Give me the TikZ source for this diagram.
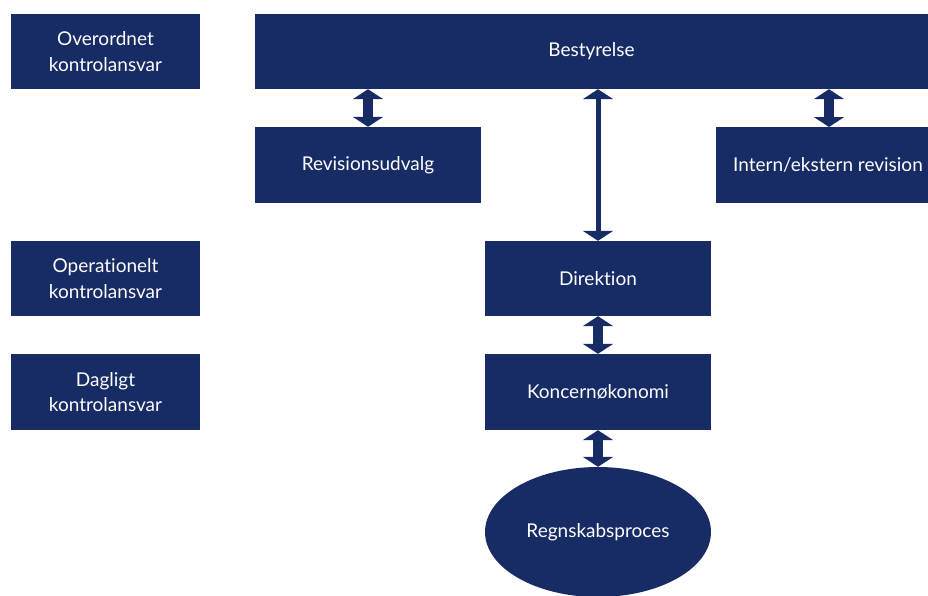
\documentclass[tikz,border=0pt]{standalone}
\usepackage{fontspec}
\setmainfont{Lato}[Ligatures=NoCommon]
\usetikzlibrary{arrows.meta,shapes.geometric}
\definecolor{navy}{HTML}{172B65}
\tikzset{
  box/.style={fill=navy, draw=none, text=white, align=center, inner sep=0pt, font=\fontsize{19}{25.5}\selectfont},
  dblarrow/.style={draw=navy, line width=#1, {Triangle[width=30pt,length=10pt]}-{Triangle[width=30pt,length=10pt]}},
}
\begin{document}
\begin{tikzpicture}[x=1pt,y=-1pt]
\useasboundingbox (0,0) rectangle (928,595);
\begin{scope}
\clip (0,0) rectangle (928,595);
\node[box, minimum width=189pt, minimum height=75pt] (ov) at (105.5,51.5) {Overordnet\\kontrolansvar};
\node[box, minimum width=673pt, minimum height=75pt] (bes) at (591.5,51.5) {\raisebox{-4pt}{Bestyrelse}};
\node[box, minimum width=226pt, minimum height=76pt] (rev) at (368,165) {Revisionsudvalg};
\node[box, minimum width=212pt, minimum height=76pt] (int) at (822,165) {\hspace{12pt}Intern/ekstern revision};
\node[box, minimum width=189pt, minimum height=75pt] (op) at (105.5,278.5) {Operationelt\\kontrolansvar};
\node[box, minimum width=226pt, minimum height=75pt] (dir) at (598,278.5) {\raisebox{-3pt}{Direktion}};
\node[box, minimum width=189pt, minimum height=76pt] (dag) at (105.5,392) {Dagligt\\kontrolansvar};
\node[box, minimum width=226pt, minimum height=76pt] (kon) at (598,392) {Koncernøkonomi};
\node[box, ellipse, inner sep=0pt, minimum width=226pt, minimum height=130pt] (reg) at (598,532) {Regnskabsproces};
\coordinate (intTop) at (829,127);
\draw[dblarrow=10pt] (rev.north |- bes.south) -- (rev.north);
\draw[dblarrow=10pt] (intTop |- bes.south) -- (intTop);
\draw[dblarrow=5pt] (dir.north |- bes.south) -- (dir.north);
\draw[dblarrow=10pt] (dir.south) -- (kon.north);
\draw[dblarrow=10pt] (kon.south) -- (reg.north);
\end{scope}
\end{tikzpicture}
\end{document}
